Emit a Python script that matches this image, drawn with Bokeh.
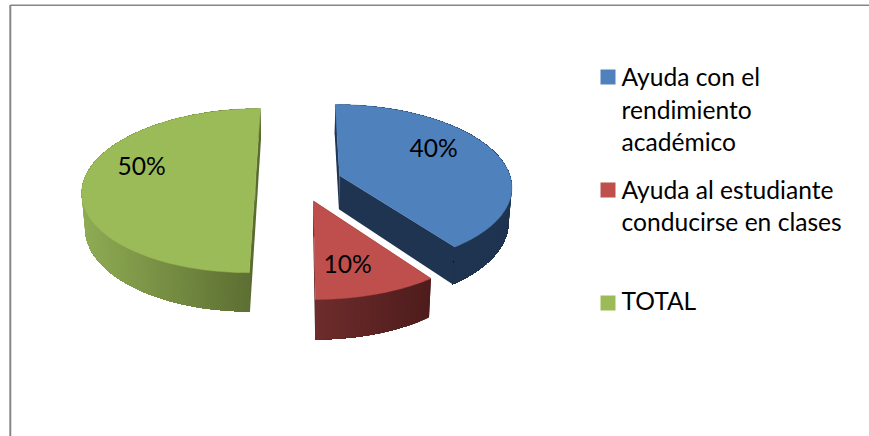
import math
from bokeh.plotting import figure
from bokeh.core.properties import value
from bokeh.embed import file_html
from bokeh.resources import INLINE

categories = ["Ayuda con el rendimiento académico", "Ayuda al estudiante conducirse en clases", "TOTAL"]
values = [40, 10, 50]
labels = ["40%", "10%", "50%"]
legend_lines = [["Ayuda con el", "rendimiento", "académico"], ["Ayuda al estudiante", "conducirse en clases"], ["TOTAL"]]

top_colors = ["#4F81BD", "#BE4F4C", "#9BBB59"]
wall_left = [(31, 52, 80), (110, 44, 44), (143, 172, 84)]
wall_right = [(31, 52, 80), (78, 28, 28), (90, 107, 48)]

# layout of the 3D projection (page pixels)
CX, CY, A, B, K, DEPTH, SHRINK = 300.0, 180.0, 171.7, 80.8, 0.123, 34.0, 0.985
apex = [(339, 175), (313, 200.5), (255, 180)]
label_pos = [(433, 146.5), (347, 262.5), (141, 165)]
legend_box_top = [69, 182, 295]
legend_centers = [[76, 109, 141], [189, 221], [300]]
FONT = "Lato"
FONT_PX = "24.6px"


def world_center(px, py):
    v = (py - CY) / B
    w = 1 / (1 + K * v)
    return (px - CX) / A * w, v * w


def project(X, Y, low=False):
    w = 1 - K * Y
    x = CX + A * X / w
    y = CY + B * Y / w
    if low:
        x = CX + (x - CX) * SHRINK
        y += DEPTH / w
    return x, y


def rgb(c0, c1, t):
    t = max(0.0, min(1.0, t))
    return "#%02x%02x%02x" % tuple(round(a + (b - a) * t) for a, b in zip(c0, c1))


p = figure(width=869, height=436, x_range=(0, 869), y_range=(436, 0), toolbar_location=None,
           output_backend="svg", min_border=0, outline_line_color=None, tools="")
p.axis.visible = False
p.grid.visible = False
p.styles = {"position": "absolute", "left": "0px", "top": "0px"}

# chart frame
p.line([9.8, 9.8], [4.5, 436], line_color="#868686", line_width=2)
p.line([9.8, 869], [4.8, 4.8], line_color="#868686", line_width=1.6)

total = sum(values)
start = 0.0
wall_xs, wall_ys, wall_cs = [], [], []
face_xs, face_ys, face_cs = [], [], []
for i, val in enumerate(values):
    sweep = 360.0 * val / total
    Xc, Yc = world_center(*apex[i])
    n = max(8, int(sweep))
    rim = []
    for j in range(n + 1):
        th = math.radians(start + sweep * j / n)
        rim.append((Xc + math.sin(th), Yc - math.cos(th)))
    xs_arc = [project(*q)[0] for q in rim]
    x0, x1 = min(xs_arc), max(xs_arc)
    end_col = rgb(wall_left[i], wall_right[i], 1.0)
    # flat cut faces
    for q in (rim[0], rim[-1]):
        a, b = project(Xc, Yc), project(*q)
        c, d = project(*q, low=True), project(Xc, Yc, low=True)
        wall_xs.append([a[0], b[0], c[0], d[0]])
        wall_ys.append([a[1], b[1], c[1], d[1]])
        wall_cs.append(end_col)
    # outer wall: every band runs on to the end of the arc, later bands paint over it
    ordered = list(range(n))
    if i == 2:  # the green wall darkens towards its far end, so paint from the dark end
        ordered = ordered[::-1]
    for j in ordered:
        seg = rim[j:] if i != 2 else rim[: j + 2]
        upper = [project(*q) for q in seg]
        lower = [project(*q, low=True) for q in seg[::-1]]
        mid = (project(*rim[j])[0] + project(*rim[j + 1])[0]) / 2
        col = rgb(wall_left[i], wall_right[i], (mid - x0) / (x1 - x0))
        wall_xs.append([q[0] for q in upper + lower])
        wall_ys.append([q[1] for q in upper + lower])
        wall_cs.append(col)
    ap = project(Xc, Yc)
    pts = [ap] + [project(*q) for q in rim]
    face_xs.append([q[0] for q in pts])
    face_ys.append([q[1] for q in pts])
    face_cs.append(top_colors[i])
    start += sweep

p.patches(wall_xs, wall_ys, fill_color=wall_cs, line_color=None)
p.patches(face_xs, face_ys, fill_color=face_cs, line_color=face_cs, line_width=0.5)

p.text([q[0] for q in label_pos], [q[1] for q in label_pos], text=labels, text_align="center",
       text_baseline="middle", text_color="#000000", text_font=value(FONT), text_font_size=FONT_PX)

# legend
p.rect([607.5] * 3, [t + 7.5 for t in legend_box_top], width=15, height=15, fill_color=top_colors, line_color=None)
for lines, centers in zip(legend_lines, legend_centers):
    p.text([621] * len(lines), centers, text=lines, text_align="left", text_baseline="middle",
           text_color="#000000", text_font=value(FONT), text_font_size=FONT_PX)

open("out.html", "w").write(file_html(p, INLINE))
